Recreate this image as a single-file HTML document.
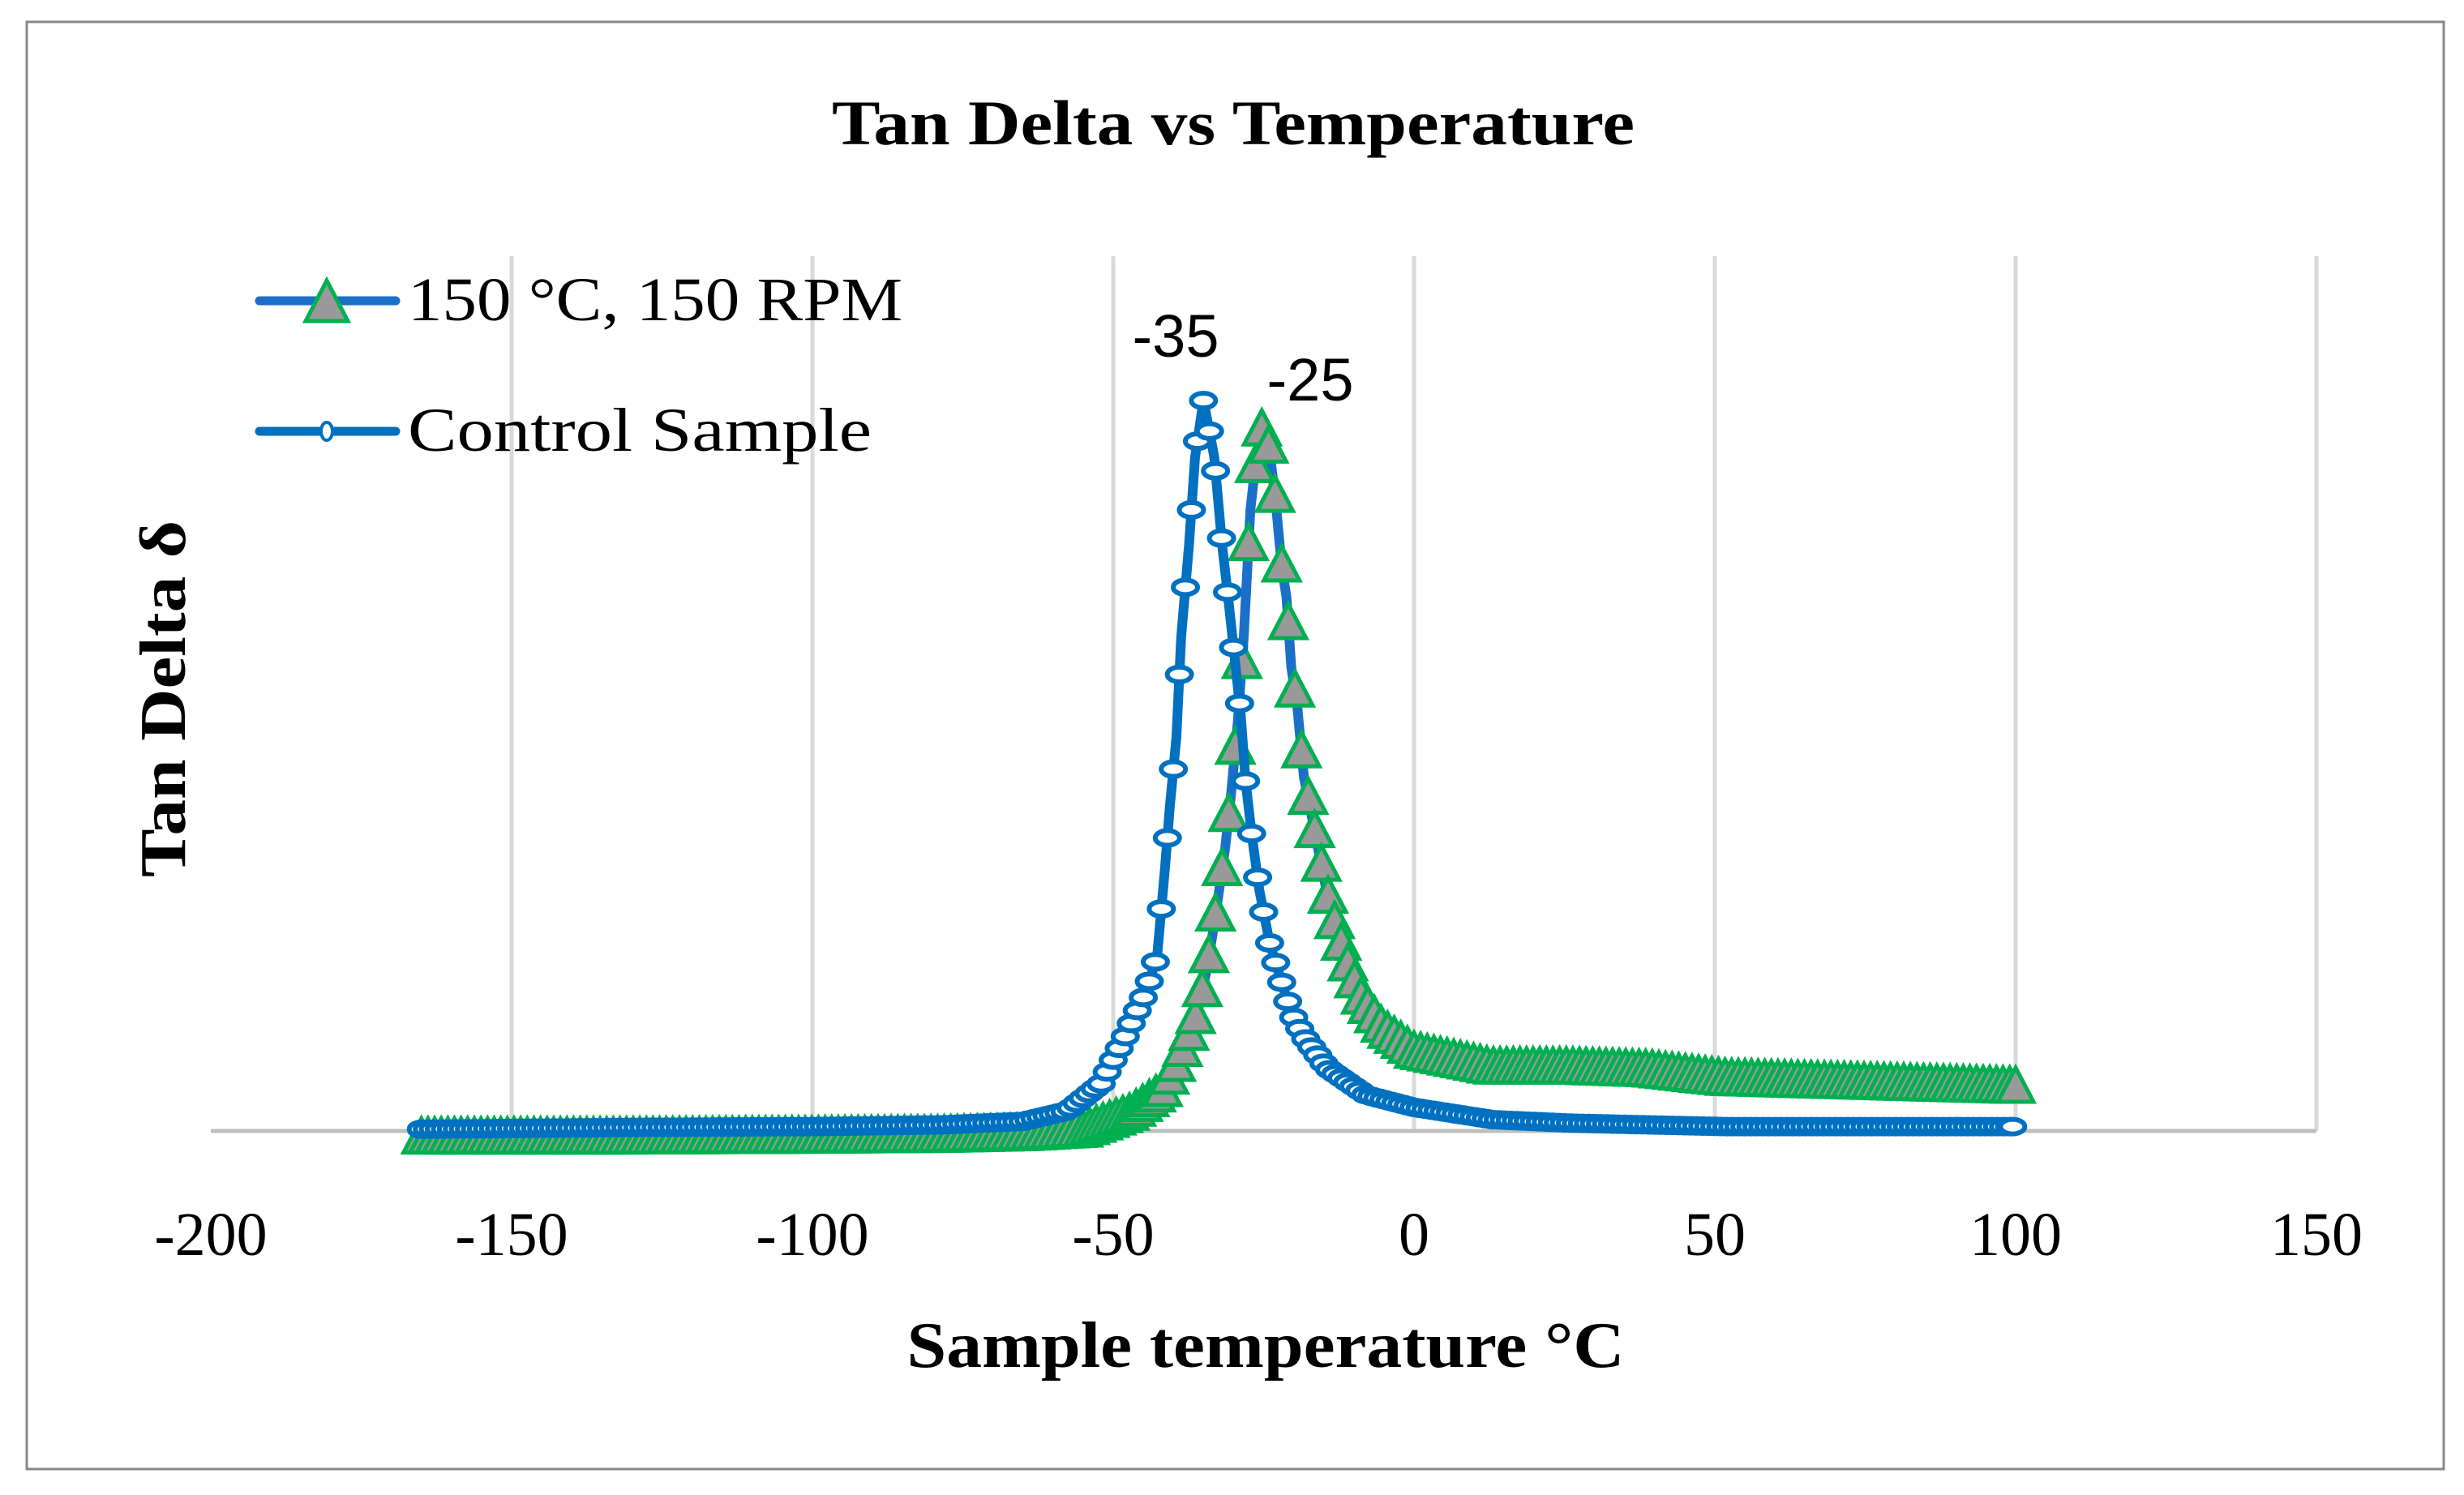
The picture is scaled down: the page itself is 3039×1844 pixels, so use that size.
<!DOCTYPE html>
<html><head><meta charset="utf-8"><style>
html,body{margin:0;padding:0;background:#fff}
svg{display:block}
text{font-family:"Liberation Serif",serif;fill:#000}
</style></head><body>
<svg id="chart" width="3039" height="1844" viewBox="0 0 3039 1844" xmlns="http://www.w3.org/2000/svg">
<rect x="0" y="0" width="3039" height="1844" fill="#fff"/>
<rect x="33" y="27" width="2981" height="1785" fill="none" stroke="#888" stroke-width="3"/>
<text x="1521" y="178" font-size="78" font-weight="bold" text-anchor="middle" textLength="990" lengthAdjust="spacingAndGlyphs">Tan Delta vs Temperature</text>
<g id="grid"></g>
<line x1="260" y1="1395" x2="2857" y2="1395" stroke="#bfbfbf" stroke-width="5"/>
<g id="xticks"></g>
<text x="1561" y="1686" font-size="80" font-weight="bold" text-anchor="middle" textLength="885" lengthAdjust="spacingAndGlyphs">Sample temperature °C</text>
<text transform="translate(228,862) rotate(-90)" font-size="80" font-weight="bold" text-anchor="middle" textLength="440" lengthAdjust="spacingAndGlyphs">Tan Delta δ</text>
<g id="series"></g>
<text x="1450" y="440" font-size="74" text-anchor="middle" style="font-family:'Liberation Sans',sans-serif">-35</text>
<text x="1616" y="494" font-size="74" text-anchor="middle" style="font-family:'Liberation Sans',sans-serif">-25</text>
<g>
  <g>
    <line x1="320" y1="371" x2="488" y2="371" stroke="#1a70c8" stroke-width="11" stroke-linecap="round"/>
    <polygon points="403,346 377,396 429,396" fill="#999" stroke="#00b050" stroke-width="5"/>
    <text x="503" y="395" font-size="76" textLength="610" lengthAdjust="spacingAndGlyphs">150 °C, 150 RPM</text>
  </g>
  <g>
    <line x1="320" y1="532" x2="488" y2="532" stroke="#0070c0" stroke-width="11" stroke-linecap="round"/>
    <ellipse cx="403" cy="532" rx="7" ry="11" fill="#fff" stroke="#0070c0" stroke-width="4"/>
    <text x="503" y="556" font-size="76" textLength="572" lengthAdjust="spacingAndGlyphs">Control Sample</text>
  </g>
</g>
</svg>
<script>
const xTicks = [-200,-150,-100,-50,0,50,100,150];
const xTickLabels = ["-200","-150","-100","-50","0","50","100","150"];
const controlTemp = [-165,-131,-100,-78.5,-65,-57.6,-52,-48,-44.5,-42.7,-41.4,-40.6,-39.5,-38.7,-37.4,-36.4,-35,-34,-33.2,-31.9,-30.9,-29.8,-28.8,-28,-27,-25.7,-24,-22,-20.4,-18.3,-14.4,-7.9,0,13,26,52,75,99.5];
const controlTan = [0.002,0.004,0.005,0.007,0.011,0.023,0.054,0.108,0.16,0.2,0.3,0.37,0.45,0.565,0.67,0.77,0.835,0.8,0.77,0.67,0.61,0.54,0.476,0.4,0.34,0.275,0.215,0.17,0.135,0.108,0.072,0.041,0.027,0.013,0.009,0.005,0.005,0.005];
const rpmTemp = [-165,-131,-100,-78.5,-65,-55,-47,-41.9,-39.8,-38,-36,-34.5,-33.5,-32.5,-31.4,-30.4,-29.3,-28.3,-27.2,-26.2,-25.1,-24,-23,-22,-21.2,-20.4,-19.4,-18.3,-17,-15.7,-14.4,-13,-11,-8.9,-5.2,0,13,26,39,52,78.5,100];
const rpmTan = [-0.008,-0.008,-0.007,-0.006,-0.004,0.0,0.02,0.045,0.072,0.1,0.135,0.183,0.224,0.27,0.323,0.386,0.467,0.565,0.71,0.772,0.808,0.776,0.72,0.646,0.61,0.53,0.485,0.404,0.36,0.314,0.27,0.233,0.19,0.153,0.117,0.09,0.072,0.072,0.069,0.059,0.054,0.05];

const NS="http://www.w3.org/2000/svg";
const X0=260,X1=2857,Y0=1395,Y1=316;
function xs(t){return X0+(t+200)/350*(X1-X0);}
function ys(v){return Y0-v*(Y0-Y1);}
const grid=document.getElementById('grid');
const xt=document.getElementById('xticks');
xTicks.forEach((t,i)=>{
  if(t>-200){
    const l=document.createElementNS(NS,'line');
    
    
    l.setAttribute('x1',xs(t));l.setAttribute('x2',xs(t));
    l.setAttribute('y1',Y1);l.setAttribute('y2',Y0);
    l.setAttribute('stroke','#d9d9d9');l.setAttribute('stroke-width','5');
    grid.appendChild(l);
  }
  const tx=document.createElementNS(NS,'text');
  
  
  tx.setAttribute('x',xs(t));tx.setAttribute('y',1548);
  tx.setAttribute('font-size','76');tx.setAttribute('text-anchor','middle');
  tx.textContent=xTickLabels[i];
  xt.appendChild(tx);
});
function sampleByTemp(temps,vals,step){
  const out=[];
  for(let t=temps[0];t<=temps[temps.length-1]+1e-6;t+=step){
    let k=0;while(k<temps.length-2&&temps[k+1]<t)k++;
    const f=(t-temps[k])/(temps[k+1]-temps[k]);
    out.push([xs(t),ys(vals[k]+(vals[k+1]-vals[k])*Math.min(1,Math.max(0,f)))]);
  }
  out.push([xs(temps[temps.length-1]),ys(vals[vals.length-1])]);
  return out;
}
const ser=document.getElementById('series');
function drawSeries(temps,vals,name,kind){
  const g=document.createElementNS(NS,'g');
  
  
  const pts=temps.map((t,i)=>[xs(t),ys(vals[i])]);
  const pl=document.createElementNS(NS,'polyline');
  
  
  pl.setAttribute('points',pts.map(p=>p.join(',')).join(' '));
  pl.setAttribute('fill','none');pl.setAttribute('stroke',kind==='tri'?'#1a70c8':'#0070c0');
  pl.setAttribute('stroke-width','12');pl.setAttribute('stroke-linejoin','round');
  g.appendChild(pl);
  const marks=sampleByTemp(temps,vals,kind==='tri'?1.1:1.0);
  marks.forEach(([x,y])=>{
    let m;
    if(kind==='tri'){
      m=document.createElementNS(NS,'polygon');
      m.setAttribute('points',`${x},${y-24} ${x-22},${y+18} ${x+22},${y+18}`);
      m.setAttribute('fill','#999');m.setAttribute('stroke','#00b050');m.setAttribute('stroke-width','5');
    }else{
      m=document.createElementNS(NS,'ellipse');
      m.setAttribute('cx',x);m.setAttribute('cy',y);m.setAttribute('rx','15');m.setAttribute('ry','9');
      m.setAttribute('fill','#fff');m.setAttribute('stroke','#0070c0');m.setAttribute('stroke-width','6');
    }
    
    
    g.appendChild(m);
  });
  ser.appendChild(g);
}
drawSeries(rpmTemp,rpmTan,'series-150c-150rpm','tri');
drawSeries(controlTemp,controlTan,'series-control-sample','circ');
</script>
</body></html>
